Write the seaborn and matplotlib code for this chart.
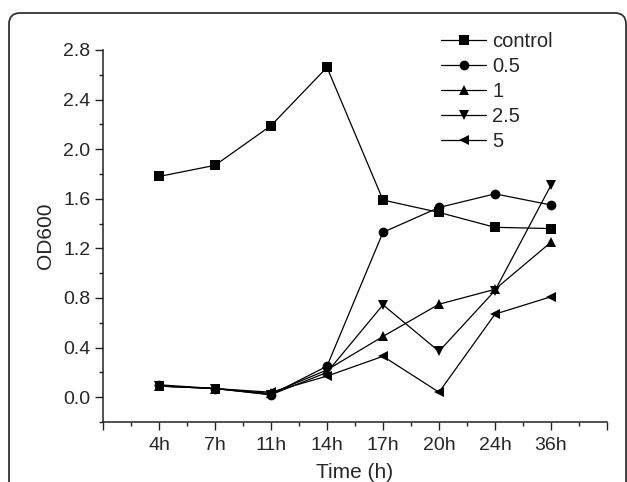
import matplotlib
matplotlib.use("Agg")
import matplotlib.pyplot as plt
from matplotlib.patches import FancyBboxPatch
from matplotlib.ticker import MultipleLocator, FixedLocator
import pandas as pd
import seaborn as sns

times = ["4h", "7h", "11h", "14h", "17h", "20h", "24h", "36h"]
groups = ["control", "0.5", "1", "2.5", "5"]
control = [1.78, 1.87, 2.19, 2.66, 1.59, 1.49, 1.37, 1.36]
c05 = [0.10, 0.07, 0.02, 0.25, 1.33, 1.53, 1.64, 1.55]
c1 = [0.09, 0.07, 0.03, 0.22, 0.49, 0.75, 0.87, 1.25]
c25 = [0.09, 0.07, 0.02, 0.20, 0.745, 0.37, 0.86, 1.71]
c5 = [0.09, 0.07, 0.04, 0.17, 0.33, 0.04, 0.67, 0.81]

series = [control, c05, c1, c25, c5]
rows = []
for g, vals in zip(groups, series):
    for t, v in zip(times, vals):
        rows.append({"Time": t, "OD600": v, "group": g})
df = pd.DataFrame(rows)

sns.set_style("ticks")
plt.rcParams["font.family"] = ["Liberation Sans", "DejaVu Sans"]

fig = plt.figure(figsize=(6.27, 4.82), dpi=100)
ax = fig.add_axes([103 / 627, 1 - 422 / 482, (607 - 103) / 627, (422 - 50) / 482])

sns.lineplot(data=df, x="Time", y="OD600", style="group", style_order=groups,
             markers=["s", "o", "^", "v", "<"], dashes=False, color="black",
             markersize=7, markeredgewidth=0, linewidth=0.9, ax=ax, legend=True)

ax.set_xlim(-1, 8)
ax.set_ylim(-0.2, 2.8)
ax.xaxis.set_major_locator(FixedLocator(range(-1, 9)))
ax.set_xticklabels([""] + times + [""])
ax.xaxis.set_minor_locator(MultipleLocator(0.5))
ax.yaxis.set_major_locator(FixedLocator([0.0, 0.4, 0.8, 1.2, 1.6, 2.0, 2.4, 2.8]))
ax.yaxis.set_minor_locator(MultipleLocator(0.2))
ax.set_yticklabels(["0.0", "0.4", "0.8", "1.2", "1.6", "2.0", "2.4", "2.8"])
ax.tick_params(which="major", length=6, width=1, labelsize=14, pad=3, color="#222222")
ax.tick_params(axis="x", which="major", pad=5)
ax.tick_params(which="minor", length=3, width=1, color="#222222")
ax.set_xlabel("Time (h)", fontsize=15, labelpad=6)
ax.set_ylabel("OD600", fontsize=15, labelpad=6)
for s in ["top", "right"]:
    ax.spines[s].set_visible(False)
for s in ["left", "bottom"]:
    ax.spines[s].set_linewidth(1.1)
    ax.spines[s].set_color("#222222")

handles, labels = ax.get_legend_handles_labels()
for h in handles:
    h.set_color("black")
    h.set_markerfacecolor("black")
    h.set_markeredgewidth(0)
    h.set_linewidth(0.9)
ax.legend(handles, labels, loc="upper left", bbox_to_anchor=(441 / 627, 1 - 32 / 482),
          bbox_transform=fig.transFigure, frameon=False, fontsize=14.5,
          handlelength=2.25, handletextpad=0.3, labelspacing=0.3, borderpad=0,
          borderaxespad=0)

frame = FancyBboxPatch((9 / 100, -0.5), 617 / 100, (482 - 13) / 100 + 0.5,
                       boxstyle="round,pad=0,rounding_size=0.11",
                       transform=fig.dpi_scale_trans, fill=False, edgecolor="#333333",
                       linewidth=1.3, clip_on=False)
fig.patches.append(frame)

fig.savefig("out.png", dpi=100)
